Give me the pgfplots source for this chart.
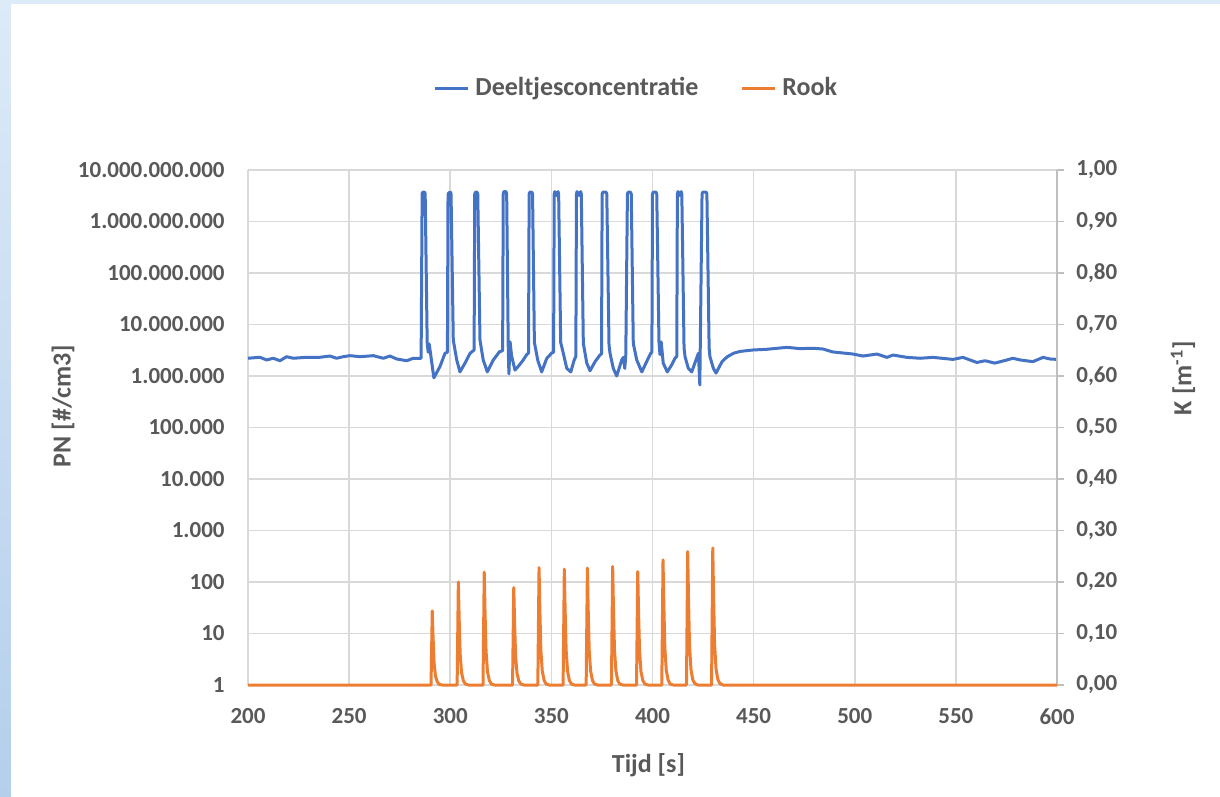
\documentclass[border=0pt]{standalone}
\usepackage{fontspec}
\setmainfont{Carlito}
\usepackage{pgfplots}
\pgfplotsset{compat=1.18}

\definecolor{lijnblauw}{HTML}{4472C4}
\definecolor{lijnoranje}{HTML}{ED7D31}
\definecolor{tekst}{HTML}{595959}
\definecolor{raster}{HTML}{D9D9D9}
\definecolor{asgrijs}{HTML}{BFBFBF}
\definecolor{randlicht}{HTML}{DDEAF7}
\definecolor{randdonker}{HTML}{B4CFEC}

\newcommand\tickfont{\bfseries\fontsize{11.5bp}{13bp}\selectfont}
\newcommand\labelfont{\bfseries\fontsize{13bp}{15bp}\selectfont}

\begin{document}
\begin{tikzpicture}
% achtergrond met blauwe rand
\fill[randlicht] (0,0) rectangle (610bp,398.5bp);
\shade[top color=randlicht, bottom color=randdonker] (0,0) rectangle (5.5bp,398.5bp);
\fill[white] (5.5bp,0) rectangle (610bp,396.5bp);

% linker as: deeltjesconcentratie (log)
\begin{axis}[
  at={(124bp,56bp)}, anchor=south west,
  scale only axis, width=404.5bp, height=257.5bp,
  xmin=200, xmax=600,
  ymode=log, ymin=1, ymax=1e10,
  axis line style={draw=none},
  tick style={draw=none},
  grid=major,
  major grid style={raster, line width=0.8bp},
  xtick={200,250,300,350,400,450,500,550,600},
  xticklabels={200,250,300,350,400,450,500,550,600},
  ytick={1e0,1e1,1e2,1e3,1e4,1e5,1e6,1e7,1e8,1e9,1e10},
  yticklabels={1,10,100,1.000,10.000,100.000,1.000.000,10.000.000,100.000.000,1.000.000.000,10.000.000.000},
  ticklabel style={font=\tickfont, text=tekst},
  xticklabel style={anchor=north, inner sep=0pt, yshift=-11.5bp},
  yticklabel style={anchor=east, inner sep=0pt, xshift=-11.5bp},
  label style={font=\labelfont, text=tekst},
  xlabel={Tijd [s]},
  xlabel style={at={(axis description cs:0.495,0)}, anchor=center, yshift=-40bp},
  ylabel={PN [\#/cm3]},
  ylabel style={at={(axis description cs:-0.2287,0.5417)}, anchor=center},
  clip=false,
]
\addplot[lijnblauw, line width=1.5bp, line join=round] coordinates {
  (200,2.21e6) (205.9,2.31e6) (209.2,2.05e6) (212.5,2.21e6) (215.8,1.98e6)
  (219.1,2.37e6) (222.4,2.21e6) (229.0,2.31e6) (235.6,2.31e6) (240.5,2.44e6)
  (243.8,2.21e6) (247.1,2.37e6) (250.4,2.48e6) (255.4,2.37e6) (262.0,2.48e6)
  (266.9,2.21e6) (270.2,2.44e6) (273.5,2.14e6) (278.5,1.98e6) (281.7,2.21e6)
  (285.6,2.21e6)
  (286.1,3.5e9) (286.4,3.7e9) (287.3,3.7e9) (287.6,3.5e9)
  (288.6,4.4e6) (289.1,2.9e6) (289.6,4.2e6) (291.9,9.2e5) (294.9,1.52e6)
  (297.4,2.76e6) (298.6,2.9e6)
  (298.9,3.3e9) (299.2,3.6e9) (300.1,3.7e9) (300.4,3.4e9)
  (301.5,5.0e6) (303.2,2.05e6) (304.8,1.2e6) (307.3,1.78e6) (309.8,2.76e6)
  (311.8,3.2e6)
  (312.1,3.4e9) (312.4,3.7e9) (313.3,3.7e9) (313.6,3.4e9)
  (314.7,5.0e6) (316.3,2.05e6) (318.3,1.2e6) (321.3,2.05e6) (324.3,2.95e6)
  (325.9,3.1e6)
  (326.2,3.4e9) (326.5,3.8e9) (327.6,3.8e9) (327.9,3.4e9)
  (328.7,3.0e6) (329.0,1.1e6) (329.6,4.6e6) (330.3,2.5e6) (332.0,1.3e6)
  (334.0,1.6e6) (336.1,2.05e6) (337.8,2.6e6) (338.7,2.8e6)
  (339.0,3.4e9) (339.3,3.7e9) (340.4,3.7e9) (340.7,3.4e9)
  (341.6,4.5e6) (343.3,2.0e6) (345.2,1.2e6) (347.7,2.2e6) (350.2,2.8e6)
  (351.1,2.9e6)
  (351.4,3.4e9) (351.7,3.8e9) (352.5,3.2e9) (353.3,3.8e9) (353.6,3.4e9)
  (354.6,4.5e6) (355.9,2.76e6) (357.6,1.41e6) (359.6,1.2e6) (361.2,2.0e6)
  (362.1,2.4e6)
  (362.4,3.4e9) (362.7,3.8e9) (363.6,3.2e9) (364.5,3.8e9) (364.8,3.4e9)
  (365.8,4.3e6) (367.5,1.78e6) (369.1,1.26e6) (371.6,1.9e6) (374.0,2.55e6)
  (374.8,2.7e6)
  (375.1,3.4e9) (375.4,3.7e9) (377.1,3.7e9) (377.4,3.4e9)
  (378.5,4.0e6) (379.0,2.76e6) (380.6,1.41e6) (382.3,1.0e6) (384.8,2.05e6)
  (385.6,2.3e6) (386.3,1.4e6) (386.8,2.6e6)
  (387.6,3.4e9) (387.9,3.7e9) (389.2,3.7e9) (389.5,3.4e9)
  (390.5,4.3e6) (392.2,2.05e6) (394.7,1.2e6) (397.1,1.9e6) (399.1,2.76e6)
  (399.7,2.9e6)
  (400.0,3.4e9) (400.3,3.7e9) (401.8,3.7e9) (402.1,3.4e9)
  (403.2,4.6e6) (403.7,2.6e6) (404.3,4.6e6) (405.3,1.78e6) (407.3,1.2e6)
  (409.5,1.65e6) (411.1,2.2e6) (412.0,2.4e6)
  (412.3,3.4e9) (412.6,3.8e9) (413.4,3.2e9) (414.2,3.8e9) (414.5,3.4e9)
  (415.6,3.5e6) (416.1,2.37e6) (417.7,1.41e6) (419.4,1.2e6) (421.5,2.05e6)
  (422.7,2.76e6) (423.4,6.7e5)
  (424.5,3.4e9) (424.8,3.7e9) (426.6,3.7e9) (426.9,3.4e9)
  (428.0,3.5e6) (428.4,2.37e6) (430.1,1.41e6) (431.4,1.14e6) (434.4,1.9e6)
  (436.8,2.34e6) (440.0,2.76e6) (443.3,3.0e6) (449.7,3.2e6) (456.5,3.3e6)
  (466.5,3.6e6) (472.9,3.4e6) (479.4,3.45e6) (484.3,3.34e6) (489.1,2.93e6)
  (499.1,2.67e6) (504.1,2.44e6) (511.0,2.67e6) (515.9,2.3e6) (518.9,2.55e6)
  (525.8,2.3e6) (532.3,2.21e6) (538.7,2.3e6) (548.6,2.1e6) (553.5,2.3e6)
  (560.4,1.83e6) (564.4,1.98e6) (569.3,1.78e6) (575.3,2.05e6) (578.2,2.21e6)
  (581.7,2.05e6) (588.1,1.9e6) (593.1,2.3e6) (596.5,2.14e6) (600,2.1e6)
};
\end{axis}

% rechter as: rook K
\begin{axis}[
  at={(124bp,56bp)}, anchor=south west,
  scale only axis, width=404.5bp, height=257.5bp,
  xmin=200, xmax=600,
  ymin=0, ymax=1,
  axis x line=none,
  axis y line*=right,
  axis line style={asgrijs, line width=0.8bp},
  tick align=outside,
  major tick length=3.5bp,
  ytick style={asgrijs, line width=0.8bp},
  ytick={0,0.1,0.2,0.3,0.4,0.5,0.6,0.7,0.8,0.9,1},
  yticklabels={{0,00},{0,10},{0,20},{0,30},{0,40},{0,50},{0,60},{0,70},{0,80},{0,90},{1,00}},
  ticklabel style={font=\tickfont, text=tekst},
  yticklabel style={anchor=west, inner sep=0pt, xshift=6bp},
  label style={font=\labelfont, text=tekst},
  ylabel={K [m\textsuperscript{-1}]},
  ylabel style={at={(axis description cs:1.1557,0.596)}, anchor=center},
  legend columns=2,
  legend style={draw=none, fill=none, inner sep=0pt,
    at={(axis description cs:0.2287,1.1592)}, anchor=west,
    font=\labelfont, text=tekst,
    nodes={inner sep=0pt},
    /tikz/every odd column/.append style={column sep=3bp},
    /tikz/every even column/.append style={column sep=21bp}},
  legend image code/.code={\draw[#1] (0bp,0bp) -- (16.5bp,0bp);},
  clip=false,
]
\addlegendimage{lijnblauw, line width=1.5bp}
\addlegendentry{Deeltjesconcentratie}
\addplot[lijnoranje, line width=1.5bp, line join=round] coordinates {
  (200,0)
  (290.5,0) (291.1,0.144) (291.5,0.094) (292.0,0.043) (292.7,0.017) (293.6,0.006) (294.6,0.001) (296.1,0)
  (303.4,0) (304.0,0.200) (304.4,0.130) (304.9,0.060) (305.6,0.024) (306.5,0.008) (307.5,0.002) (309.0,0)
  (316.2,0) (316.8,0.219) (317.2,0.142) (317.7,0.066) (318.4,0.026) (319.3,0.009) (320.3,0.002) (321.8,0)
  (330.8,0) (331.4,0.189) (331.8,0.123) (332.3,0.057) (333.0,0.023) (333.9,0.008) (334.9,0.002) (336.4,0)
  (343.3,0) (343.9,0.228) (344.3,0.148) (344.8,0.068) (345.5,0.027) (346.4,0.009) (347.4,0.002) (348.9,0)
  (355.8,0) (356.4,0.225) (356.8,0.146) (357.3,0.068) (358.0,0.027) (358.9,0.009) (359.9,0.002) (361.4,0)
  (367.2,0) (367.8,0.227) (368.2,0.148) (368.7,0.068) (369.4,0.027) (370.3,0.009) (371.3,0.002) (372.8,0)
  (379.7,0) (380.3,0.230) (380.7,0.150) (381.2,0.069) (381.9,0.028) (382.8,0.009) (383.8,0.002) (385.3,0)
  (392.1,0) (392.7,0.220) (393.1,0.143) (393.6,0.066) (394.3,0.026) (395.2,0.009) (396.2,0.002) (397.7,0)
  (404.6,0) (405.2,0.243) (405.6,0.158) (406.1,0.073) (406.8,0.029) (407.7,0.010) (408.7,0.002) (410.2,0)
  (416.8,0) (417.4,0.259) (417.8,0.168) (418.3,0.078) (419.0,0.031) (419.9,0.010) (420.9,0.003) (422.4,0)
  (429.2,0) (429.8,0.266) (430.2,0.173) (430.7,0.080) (431.4,0.032) (432.3,0.011) (433.3,0.003) (434.8,0)
  (600,0)
};
\addlegendentry{Rook}
\end{axis}

\pgfresetboundingbox
\useasboundingbox (0,0) rectangle (610bp,398.5bp);
\end{tikzpicture}
\end{document}
